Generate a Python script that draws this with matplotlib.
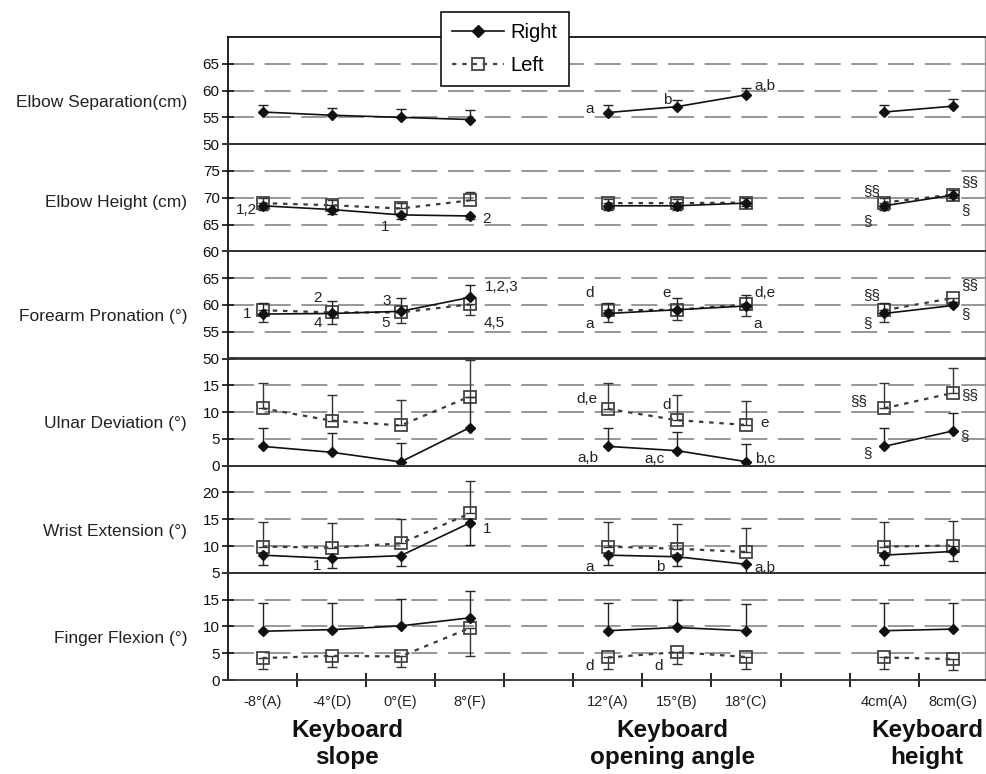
import numpy as np
import matplotlib
matplotlib.use("Agg")
import matplotlib.pyplot as plt
import matplotlib.transforms as mtransforms
from matplotlib.lines import Line2D

plt.rcParams['font.family'] = ['Liberation Sans', 'DejaVu Sans']

N = np.nan
categories = ['-8°(A)', '-4°(D)', '0°(E)', '8°(F)', '', '12°(A)', '15°(B)', '18°(C)', '', '4cm(A)', '8cm(G)']
group_titles = ['Keyboard\nslope', 'Keyboard\nopening angle', 'Keyboard\nheight']
panel_names = ['Elbow Separation(cm)', 'Elbow Height (cm)', 'Forearm Pronation (°)',
               'Ulnar Deviation (°)', 'Wrist Extension (°)', 'Finger Flexion (°)']
panel_bottoms = [50, 60, 50, 0, 5, 0]

# Elbow separation
sep_right = [56.0, 55.4, 55.0, 54.6, N, 55.9, 57.0, 59.2, N, 56.0, 57.1]
sep_right_sd = [1.3, 1.4, 1.5, 1.7, N, 1.4, 1.3, 1.2, N, 1.3, 1.3]
sep_left = [N] * 11
sep_left_sd = [N] * 11
# Elbow height
eh_right = [68.5, 67.8, 66.8, 66.6, N, 68.5, 68.5, 69.0, N, 68.5, 70.5]
eh_right_sd = [0.7, 0.8, 0.7, 0.6, N, 0.8, 0.8, 0.6, N, 0.8, 0.5]
eh_left = [69.0, 68.6, 68.0, 69.5, N, 69.0, 69.0, 69.1, N, 69.1, 70.6]
eh_left_sd = [1.0, 1.0, 1.0, 1.6, N, 0.8, 0.8, 0.8, N, 0.8, 0.8]
# Forearm pronation
fp_right = [58.3, 58.4, 58.8, 61.4, N, 58.4, 59.1, 59.8, N, 58.4, 59.9]
fp_right_sd = [2.1, 2.3, 2.5, 2.3, N, 2.0, 2.2, 2.0, N, 2.0, 0.6]
fp_left = [59.0, 58.6, 58.6, 60.1, N, 59.0, 59.1, 60.1, N, 59.0, 61.3]
fp_left_sd = [2.1, 2.1, 1.9, 1.9, N, 2.1, 2.0, 2.2, N, 2.1, 0.8]
# Ulnar deviation
ud_right = [3.6, 2.5, 0.7, 7.1, N, 3.6, 2.8, 0.75, N, 3.6, 6.5]
ud_right_sd = [3.4, 3.6, 3.5, 5.8, N, 3.4, 3.4, 3.35, N, 3.4, 3.4]
ud_left = [10.7, 8.4, 7.5, 12.9, N, 10.6, 8.5, 7.6, N, 10.7, 13.6]
ud_left_sd = [4.8, 4.7, 4.8, 6.9, N, 4.9, 4.7, 4.5, N, 4.8, 4.7]
# Wrist extension
we_right = [8.3, 7.7, 8.2, 14.3, N, 8.3, 8.0, 6.6, N, 8.3, 9.0]
we_right_sd = [1.8, 1.8, 2.0, 4.1, N, 1.9, 1.8, 1.9, N, 1.9, 1.7]
we_left = [9.9, 9.7, 10.5, 16.1, N, 9.9, 9.5, 8.9, N, 9.9, 10.1]
we_left_sd = [4.6, 4.6, 4.6, 6.0, N, 4.6, 4.7, 4.4, N, 4.6, 4.5]
# Finger flexion
ff_right = [9.1, 9.4, 10.1, 11.6, N, 9.2, 9.8, 9.2, N, 9.2, 9.5]
ff_right_sd = [5.2, 5.0, 5.0, 5.1, N, 5.1, 5.1, 5.0, N, 5.1, 4.9]
ff_left = [4.1, 4.5, 4.4, 9.7, N, 4.2, 5.2, 4.3, N, 4.2, 3.9]
ff_left_sd = [2.05, 2.1, 2.0, 5.2, N, 2.1, 2.2, 2.3, N, 2.2, 2.1]

panels = [
    (sep_right, sep_right_sd, 'up', sep_left, sep_left_sd, 'up'),
    (eh_right, eh_right_sd, 'down', eh_left, eh_left_sd, 'up'),
    (fp_right, fp_right_sd, 'up', fp_left, fp_left_sd, 'down'),
    (ud_right, ud_right_sd, 'up', ud_left, ud_left_sd, 'up'),
    (we_right, we_right_sd, 'down', we_left, we_left_sd, 'up'),
    (ff_right, ff_right_sd, 'up', ff_left, ff_left_sd, 'down'),
]

# annotations: (panel, category index, series, text, dx px, dy px)
notes = [
    (0, 5, 'R', 'a', -18, 4), (0, 6, 'R', 'b', -10, 7), (0, 7, 'R', 'a,b', 19, 9),
    (1, 0, 'R', '1,2', -16, -4), (1, 2, 'R', '1', -16, -12), (1, 3, 'R', '2', 17, -3),
    (1, 9, 'R', '§§', -13, 15), (1, 9, 'R', '§', -17, -15),
    (1, 10, 'R', '§§', 16, 13), (1, 10, 'R', '§', 12, -15),
    (2, 0, 'R', '1', -15, 0), (2, 1, 'R', '2', -14, 15), (2, 1, 'R', '4', -14, -10),
    (2, 2, 'R', '3', -14, 10), (2, 2, 'R', '5', -15, -12),
    (2, 3, 'R', '1,2,3', 32, 10), (2, 3, 'L', '4,5', 24, -19),
    (2, 5, 'R', 'd', -18, 20), (2, 5, 'R', 'a', -18, -11), (2, 6, 'R', 'e', -10, 17),
    (2, 7, 'R', 'd,e', 19, 13), (2, 7, 'R', 'a', 12, -18),
    (2, 9, 'R', '§§', -13, 18), (2, 9, 'R', '§', -17, -10),
    (2, 10, 'R', '§§', 16, 20), (2, 10, 'R', '§', 12, -9),
    (3, 5, 'L', 'd,e', -21, 10), (3, 6, 'L', 'd', -10, 15), (3, 7, 'L', 'e', 19, 2),
    (3, 5, 'R', 'a,b', -20, -12), (3, 6, 'R', 'a,c', -22, -8), (3, 7, 'R', 'b,c', 19, 3),
    (3, 9, 'L', '§§', -26, 7), (3, 9, 'R', '§', -17, -7),
    (3, 10, 'L', '§§', 16, -2), (3, 10, 'R', '§', 11, -5),
    (4, 1, 'R', '1', -14, -8), (4, 3, 'R', '1', 17, -6),
    (4, 5, 'R', 'a', -18, -12), (4, 6, 'R', 'b', -17, -10), (4, 7, 'R', 'a,b', 19, -4),
    (5, 5, 'L', 'd', -18, -9), (5, 6, 'L', 'd', -18, -14),
]

W, H = 986, 774
fig = plt.figure(figsize=(W / 100, H / 100), dpi=100)
left_px, right_px, top_px, bot_px = 228, 985, 37, 680
ph = (bot_px - top_px) / 6.0
axes = []
x = np.arange(len(categories))
px2pt = 72.0 / 100

for i in range(6):
    y0 = top_px + i * ph
    ax = fig.add_axes([left_px / W, 1 - (y0 + ph) / H, (right_px - left_px) / W, ph / H])
    axes.append(ax)
    b = panel_bottoms[i]
    ax.set_ylim(b, b + 20)
    ax.set_xlim(-0.5, 10.46)
    for g in (b + 5, b + 10, b + 15):
        ax.axhline(g, color='#7a7a7a', lw=1.1, dashes=(17, 7), zorder=1)
    ax.set_yticks([b, b + 5, b + 10, b + 15])
    ax.set_yticklabels([str(v) for v in (b, b + 5, b + 10, b + 15)])
    ax.tick_params(axis='y', direction='inout', length=8, width=1.2, labelsize=11, pad=2, colors='#111')
    for s in ('top', 'bottom'):
        ax.spines[s].set_color('#333333')
        ax.spines[s].set_linewidth(1.3)
    ax.spines['left'].set_color('#111')
    ax.spines['left'].set_linewidth(1.3)
    ax.spines['right'].set_color('#999999')
    ax.spines['right'].set_linewidth(1.0)
    ax.set_facecolor('none')

    r, rsd, rdir, l, lsd, ldir = panels[i]
    r = np.array(r, float); rsd = np.nan_to_num(np.array(rsd, float))
    l = np.array(l, float); lsd = np.nan_to_num(np.array(lsd, float))
    zr = np.zeros_like(rsd)
    lerr = [zr, lsd] if ldir == 'up' else [lsd, zr]
    rerr = [zr, rsd] if rdir == 'up' else [rsd, zr]
    if not np.all(np.isnan(l)):
        ax.errorbar(x, l, yerr=lerr, fmt='none', ecolor='#333333', elinewidth=1.0,
                    capsize=3.8, capthick=1.0, zorder=3)
        ax.plot(x, l, color='#3a3a3a', lw=1.6, dashes=(2.0, 2.6), zorder=3)
        ax.plot(x, l, ls='none', marker='s', ms=8, mfc='none', mec='#444444', mew=1.3, zorder=4)
    ax.errorbar(x, r, yerr=rerr, fmt='none', ecolor='#222222', elinewidth=1.0,
                capsize=3.8, capthick=1.0, zorder=5)
    ax.plot(x, r, color='#111111', lw=1.2, marker='D', ms=5.5, mfc='#111111', mec='#111111', zorder=6)

    ax.text(-0.054, 0.46 if i == 1 else 0.39, panel_names[i], transform=ax.transAxes,
            ha='right', va='center', fontsize=12.5, color='#222')

    for (pi, ci, ser, txt, dx, dy) in notes:
        if pi != i:
            continue
        yv = r[ci] if ser == 'R' else l[ci]
        ax.annotate(txt, (x[ci], yv), xytext=(dx * px2pt, dy * px2pt), textcoords='offset points',
                    ha='center', va='center', fontsize=11, color='#222', zorder=7)

    if i < 5:
        ax.set_xticks([])
    ax.set_xticks(np.arange(0.5, 10, 1.0), minor=True)
    ax.tick_params(axis='x', which='minor', length=0)

axb = axes[-1]
axb.set_xticks(x)
axb.set_xticklabels(categories, fontsize=10.5, color='#222')
axb.tick_params(axis='x', which='major', length=0, pad=11)
axb.tick_params(axis='x', which='minor', direction='inout', length=10, width=1.2)
axes[0].spines['top'].set_color('#111')

tr = mtransforms.blended_transform_factory(axb.transData, fig.transFigure)
for xc, t in zip([1.23, 5.94, 9.62], group_titles):
    axb.text(xc, 1 - 744 / H, t, transform=tr, ha='center', va='center', fontsize=17.5,
             fontweight='bold', linespacing=1.25, color='#111')

h_r = Line2D([], [], color='#111', lw=1.2, marker='D', ms=6, mfc='#111', mec='#111')
h_l = Line2D([], [], color='#444', lw=1.6, dashes=(2.0, 2.6), marker='s', ms=8, mfc='none', mec='#444', mew=1.3)
leg = fig.legend([h_r, h_l], ['Right', 'Left'], loc='upper left', bbox_to_anchor=(441 / W, 1 - 12 / H),
                 fontsize=14.5, frameon=True, fancybox=False, edgecolor='#111', framealpha=1,
                 handlelength=2.6, labelspacing=0.7, borderpad=0.55, handletextpad=0.3, borderaxespad=0)
leg.get_frame().set_linewidth(1.2)

fig.savefig('out.png', dpi=100)
